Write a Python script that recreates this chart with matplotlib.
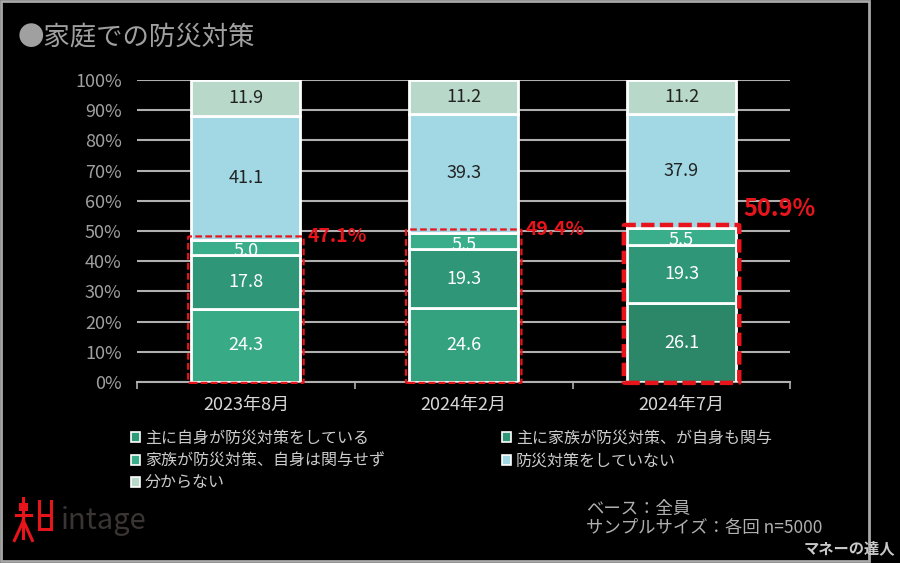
import numpy as np
import matplotlib.pyplot as plt
from matplotlib.patches import Patch, Rectangle, FancyBboxPatch
from matplotlib.lines import Line2D

plt.rcParams['font.family'] = ['Noto Sans CJK JP', 'DejaVu Sans']

periods = ['2023年8月', '2024年2月', '2024年7月']
series_names = ['主に自身が防災対策をしている',
                '主に家族が防災対策、が自身も関与',
                '家族が防災対策、自身は関与せず',
                '防災対策をしていない',
                '分からない']
self_main = [24.3, 24.6, 26.1]
family_with_self = [17.8, 19.3, 19.3]
family_only = [5.0, 5.5, 5.5]
no_measures = [41.1, 39.3, 37.9]
unknown = [11.9, 11.2, 11.2]
involved_total = ['47.1%', '49.4%', '50.9%']

values = [self_main, family_with_self, family_only, no_measures, unknown]
# one colour per bar, the reference shades the first segment a bit differently each time
colors = [['#38aa86', '#34a27f', '#2b8768'],
          ['#2f9677', '#2f9677', '#2f9677'],
          ['#3aae8a', '#3aae8a', '#3aae8a'],
          ['#a1d8e4', '#a1d8e4', '#a1d8e4'],
          ['#b8d9c9', '#b8d9c9', '#b8d9c9']]
legend_colors = ['#2f9a78', '#2f9677', '#3aae8a', '#a1d8e4', '#b8d9c9']
text_colors = ['white', 'white', 'white', '#222222', '#222222']

fig = plt.figure(figsize=(9, 5.63), dpi=100, facecolor='black')
ax = fig.add_axes([0.1522, 0.3215, 0.7261, 0.5364])
ax.set_facecolor('black')

x = np.arange(len(periods))
bottom = np.zeros(len(periods))
for i, vals in enumerate(values):
    bars = ax.bar(x, vals, width=0.5, bottom=bottom, color=colors[i],
                  edgecolor='white', linewidth=2, zorder=3)
    for j, b in enumerate(bars):
        yc = bottom[j] + vals[j] / 2
        if i == 2:
            yc -= 1.2  # small segment, label sits low like the original
        ax.text(b.get_x() + b.get_width() / 2, yc, f'{vals[j]:.1f}',
                ha='center', va='center', fontsize=13,
                color=text_colors[i], zorder=4)
    bottom += np.array(vals)

# red dashed frames around the "involved" part
involved = np.array(self_main) + np.array(family_with_self) + np.array(family_only)
for j in range(len(periods)):
    thick = j == 2
    ax.add_patch(FancyBboxPatch((x[j] - 0.265, -0.3), 0.53, involved[j] + 1.4,
                                boxstyle='round,pad=0,rounding_size=0.012',
                                mutation_aspect=100 / 3 * 0.55,
                                fill=False, edgecolor='#e8141c',
                                linestyle=(0, (3, 1.5)) if not thick else (0, (3, 1.2)),
                                linewidth=3.2 if thick else 1.6, zorder=5,
                                clip_on=False))
    ax.text(x[j] + 0.285, involved[j] + (1.2 if not thick else 6.5),
            involved_total[j], color='#e8141c', fontweight='bold',
            fontsize=17 if thick else 14, ha='left', va='center')

ax.set_xlim(-0.5, 2.5)
ax.set_ylim(0, 100)
ax.set_yticks(np.arange(0, 101, 10))
ax.set_yticklabels([f'{v}%' for v in range(0, 101, 10)])
ax.yaxis.grid(True, color='#b0b0b0', linewidth=1.5, zorder=0)
ax.set_axisbelow(True)
ax.tick_params(axis='y', length=0, pad=11, labelsize=13, labelcolor='#a0a0a0')
ax.set_xticks(x)
ax.set_xticklabels(periods)
ax.tick_params(axis='x', length=0, pad=10, labelsize=13, labelcolor='#d8d8d8')
ax.set_xticks([-0.5, 0.5, 1.5, 2.5], minor=True)
ax.tick_params(axis='x', which='minor', length=5, color='#b0b0b0', width=1.2)
for s in ['top', 'right', 'left']:
    ax.spines[s].set_visible(False)
ax.spines['bottom'].set_color('#b0b0b0')
ax.spines['bottom'].set_linewidth(1.5)

# legend, column-major order so it reads like the original
order = [0, 2, 4, 1, 3]
handles = [Patch(facecolor=legend_colors[k], edgecolor='white', linewidth=1.2)
           for k in order]
fig.legend(handles, [series_names[k] for k in order], ncol=2,
           loc='upper left', bbox_to_anchor=(0.138, 0.248),
           frameon=False, fontsize=11.5, labelcolor='#cccccc',
           handlelength=0.6, handleheight=0.6, handletextpad=0.3,
           columnspacing=7.3, labelspacing=0.35, borderaxespad=0)

fig.text(0.02, 0.935, '●家庭での防災対策', fontsize=19, color='#a0a0a0',
         ha='left', va='center')
fig.text(0.651, 0.096, 'ベース：全員', fontsize=12.5, color='#b0b0b0', va='center')
fig.text(0.651, 0.062, 'サンプルサイズ：各回 n=5000', fontsize=12.5, color='#b0b0b0',
         va='center')

# intage logo, roughly
fig.text(0.068, 0.075, 'intage', fontsize=21, color='#3a3434', ha='left', va='center')
red = '#e8141c'
for xs, ys in [([0.026, 0.026], [0.045, 0.115]), ([0.018, 0.034], [0.085, 0.085]),
               ([0.026, 0.016], [0.075, 0.040]), ([0.026, 0.036], [0.075, 0.040]),
               ([0.043, 0.043], [0.060, 0.110]), ([0.057, 0.057], [0.060, 0.110]),
               ([0.043, 0.057], [0.085, 0.085]), ([0.043, 0.057], [0.060, 0.060])]:
    fig.add_artist(Line2D(xs, ys, color=red, linewidth=2.2, transform=fig.transFigure))
fig.add_artist(Rectangle((0.021, 0.093), 0.010, 0.014, facecolor=red,
                         transform=fig.transFigure))

# slide frame
fig.add_artist(Rectangle((0.001, 0.004), 0.9644, 0.994, fill=False,
                         edgecolor='#a8a8a8', linewidth=2,
                         transform=fig.transFigure))

fig.text(0.995, 0.027, 'マネーの達人', fontsize=11, fontweight='bold',
         color='#c8c8c8', ha='right', va='center')

fig.savefig('out.png', dpi=100, facecolor='black')
